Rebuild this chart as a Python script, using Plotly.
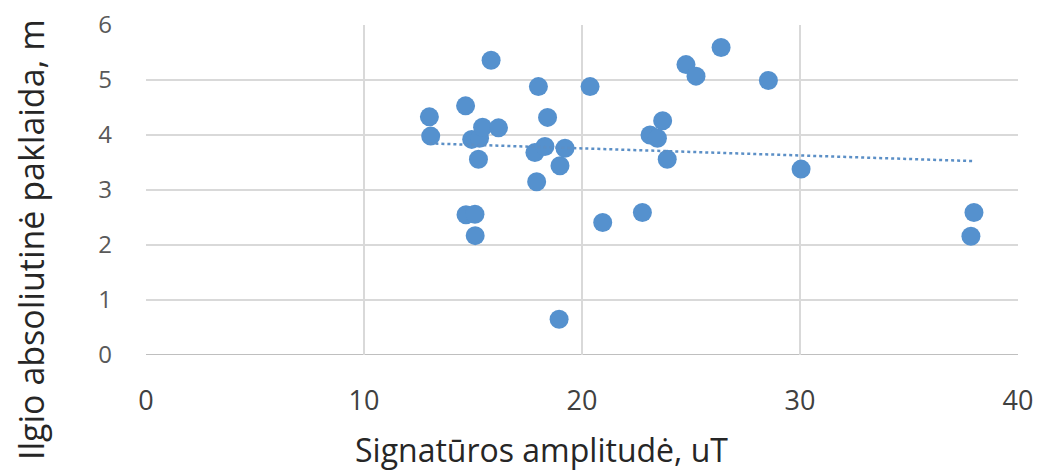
import numpy as np
import plotly.graph_objects as go

# Signature amplitude (uT) and absolute length error (m)
amplitude = [13.0, 13.06, 14.66, 14.68, 15.09, 15.1, 14.94, 15.3, 15.44, 15.25,
             15.83, 16.17, 17.84, 18.3, 17.92, 18.0, 18.42, 18.99, 19.22, 18.95,
             20.37, 20.95, 22.77, 23.12, 23.46, 23.7, 23.91, 24.77, 25.23, 26.38,
             28.55, 30.05, 37.98, 37.84]
length_error = [4.33, 3.98, 4.53, 2.55, 2.56, 2.17, 3.92, 3.94, 4.14, 3.56,
                5.36, 4.13, 3.68, 3.79, 3.15, 4.88, 4.32, 3.44, 3.76, 0.65,
                4.88, 2.41, 2.59, 4.0, 3.94, 4.26, 3.56, 5.28, 5.07, 5.59,
                4.99, 3.38, 2.59, 2.16]

x_ticks = [0, 10, 20, 30, 40]
y_ticks = [0, 1, 2, 3, 4, 5, 6]

x_title = "Signatūros amplitudė, uT"
y_title = "Ilgio absoliutinė paklaida, m"

# Linear trend line over the data range
slope, intercept = np.polyfit(amplitude, length_error, 1)
trend_x = [min(amplitude), max(amplitude)]
trend_y = [slope * v + intercept for v in trend_x]

blue = "#5591CE"
font_family = "Open Sans, Liberation Sans, sans-serif"

W, H = 1041, 476
margin = dict(l=146, r=23, t=25, b=121)

fig = go.Figure()
fig.add_trace(go.Scatter(
    x=amplitude, y=length_error, mode="markers",
    marker=dict(size=19, color=blue, line=dict(width=0)),
    showlegend=False,
))
fig.add_trace(go.Scatter(
    x=trend_x, y=trend_y, mode="lines",
    line=dict(color="#5B8FC6", width=2.5, dash="dot"),
    showlegend=False,
))

axis_common = dict(
    showgrid=True, gridcolor="#D9D9D9", gridwidth=2,
    zeroline=False, showline=False, ticks="",
    fixedrange=True, automargin=False,
)

fig.update_layout(
    width=W, height=H,
    margin=dict(**margin, autoexpand=False),
    paper_bgcolor="white", plot_bgcolor="white",
    font=dict(family=font_family),
    xaxis=dict(
        range=[0, 40], tickvals=x_ticks, ticktext=[str(v) for v in x_ticks],
        ticklabelstandoff=27,
        tickfont=dict(family=font_family, size=27, color="#404040"),
        **axis_common,
    ),
    yaxis=dict(
        range=[0, 6], tickvals=y_ticks, ticktext=[str(v) for v in y_ticks],
        ticklabelstandoff=33,
        tickfont=dict(family=font_family, size=24, color="#595959"),
        **axis_common,
    ),
)

# Axis titles placed in paper space
fig.add_annotation(
    text=x_title, xref="paper", yref="paper",
    x=(541 - margin["l"]) / (W - margin["l"] - margin["r"]),
    y=-(449 - (H - margin["b"])) / (H - margin["t"] - margin["b"]),
    xanchor="center", yanchor="middle", showarrow=False,
    font=dict(family=font_family, size=32, color="#262626"),
)
fig.add_annotation(
    text=y_title, xref="paper", yref="paper", textangle=-90,
    x=-(margin["l"] - 31) / (W - margin["l"] - margin["r"]),
    y=((H - margin["b"]) - 240) / (H - margin["t"] - margin["b"]),
    xanchor="center", yanchor="middle", showarrow=False,
    font=dict(family=font_family, size=34, color="#262626"),
)

# Darker baseline along y = 0
fig.add_shape(type="line", xref="x", yref="y", x0=0, x1=40, y0=0, y1=0,
              line=dict(color="#BFBFBF", width=2), layer="below")

fig.write_html("out.html")
